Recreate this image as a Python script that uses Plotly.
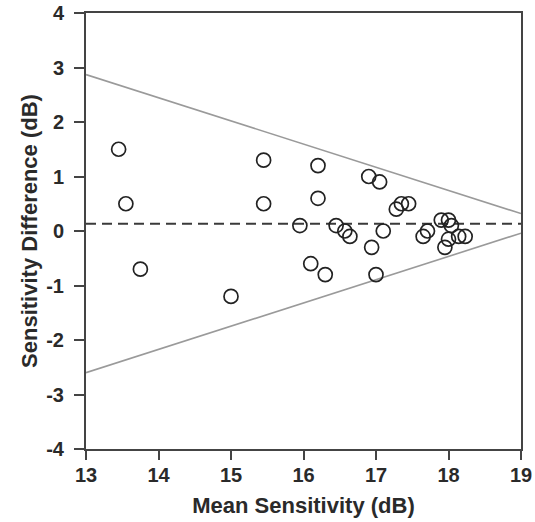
import plotly.graph_objects as go

# Data
mean_sens = [13.45, 13.55, 13.75, 15.0, 15.45, 15.45, 15.95, 16.1, 16.2, 16.2,
             16.3, 16.45, 16.57, 16.64, 16.9, 16.94, 17.0, 17.05, 17.1, 17.28,
             17.35, 17.45, 17.65, 17.71, 17.9, 18.0, 18.04, 17.95, 18.0, 18.14, 18.23]
sens_diff = [1.5, 0.5, -0.7, -1.2, 1.3, 0.5, 0.1, -0.6, 1.2, 0.6,
             -0.8, 0.1, 0.0, -0.1, 1.0, -0.3, -0.8, 0.9, 0.0, 0.4,
             0.5, 0.5, -0.1, 0.0, 0.2, 0.2, 0.1, -0.3, -0.15, -0.1, -0.1]

loa_x = [13, 19]
upper_loa = [2.87, 0.32]
lower_loa = [-2.6, -0.04]
mean_diff = 0.135

x_ticks = [13, 14, 15, 16, 17, 18, 19]
y_ticks = [-4, -3, -2, -1, 0, 1, 2, 3, 4]

fig = go.Figure()
fig.add_trace(go.Scatter(x=loa_x, y=upper_loa, mode="lines",
                         line=dict(color="#9a9a9a", width=1.6), hoverinfo="skip"))
fig.add_trace(go.Scatter(x=loa_x, y=lower_loa, mode="lines",
                         line=dict(color="#9a9a9a", width=1.6), hoverinfo="skip"))
fig.add_trace(go.Scatter(x=loa_x, y=[mean_diff, mean_diff], mode="lines",
                         line=dict(color="#3a3a3a", width=2, dash="10px,6px"), hoverinfo="skip"))
fig.add_trace(go.Scatter(x=mean_sens, y=sens_diff, mode="markers",
                         marker=dict(symbol="circle-open", size=14,
                                     line=dict(color="#222222", width=1.7),
                                     color="#222222")))

family = "Liberation Sans, Arial, sans-serif"
tick_font = dict(family=family, size=20, color="#2a2a2a")
title_font = dict(family=family, size=22, color="#2a2a2a")
fig.update_layout(
    width=535, height=522,
    margin=dict(l=86, r=14, t=13, b=73),
    paper_bgcolor="white", plot_bgcolor="white",
    showlegend=False,
    font=dict(family=family, color="#2a2a2a"),
)
fig.update_xaxes(
    range=[13, 19], tickvals=x_ticks, ticktext=[f"<b>{v}</b>" for v in x_ticks],
    tickfont=tick_font, automargin=False, ticklabelstandoff=-2,
    showgrid=False, zeroline=False,
    showline=True, linecolor="#444444", linewidth=2, mirror=True,
    ticks="outside", ticklen=9, tickwidth=2, tickcolor="#444444",
    title=dict(text="<b>Mean Sensitivity (dB)</b>", font=title_font, standoff=13),
)
fig.update_yaxes(
    range=[-4, 4], tickvals=y_ticks, ticktext=[f"<b>{v}</b>" for v in y_ticks],
    tickfont=tick_font, automargin=False, ticklabelstandoff=6,
    showgrid=False, zeroline=False,
    showline=True, linecolor="#444444", linewidth=2, mirror=True,
    ticks="outside", ticklen=10, tickwidth=2, tickcolor="#444444",
    title=dict(text="<b>Sensitivity Difference (dB)</b>", font=title_font, standoff=3),
)

fig.write_html("out.html", config={"displayModeBar": False},
               post_script="document.body.style.margin='0px';")
